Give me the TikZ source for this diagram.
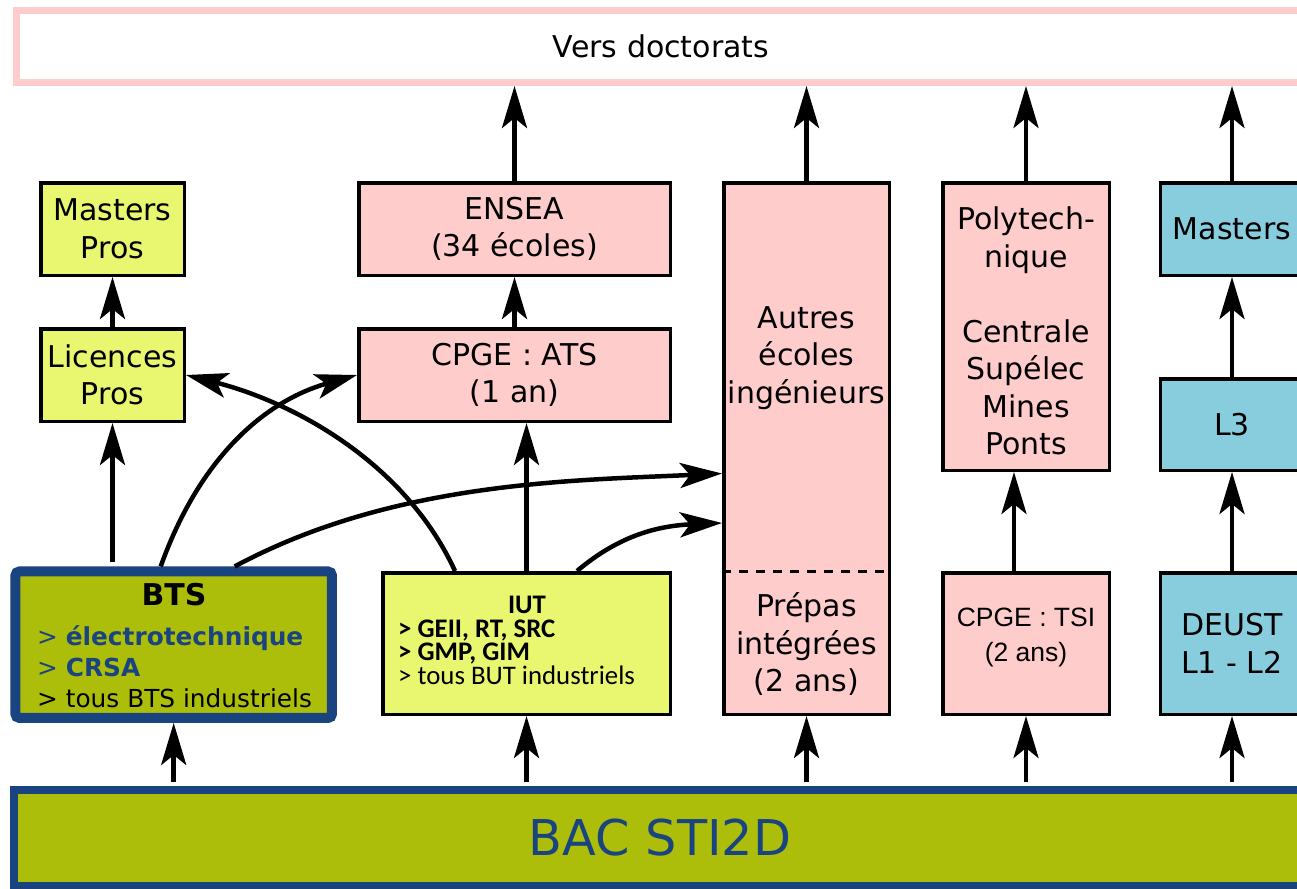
\documentclass[tikz,border=0pt]{standalone}
\usepackage{fontspec}
\setmainfont{DejaVu Sans}
\newfontfamily\carlito{Carlito}
\newfontfamily\libsans{Liberation Sans}
\usetikzlibrary{arrows.meta}
\definecolor{cyel}{RGB}{233,246,111}
\definecolor{cpink}{RGB}{255,204,204}
\definecolor{cblue}{RGB}{136,205,221}
\definecolor{colive}{RGB}{173,190,10}
\definecolor{cdblue}{RGB}{26,68,128}
\begin{document}
\begin{tikzpicture}[x=1pt,y=-1pt,
  box/.style={draw=black, line width=3.5pt, inner sep=0pt, align=center, font=\fontsize{30}{37.5}\selectfont},
  yel/.style={box, fill=cyel},
  pnk/.style={box, fill=cpink},
  blu/.style={box, fill=cblue},
  txt/.style={inner sep=0pt, align=center, font=\fontsize{30}{37.5}\selectfont},
  arr/.style={line width=4.5pt, -{Stealth[length=42pt,width=25pt,inset=10pt]}},
  arrb/.style={arr, shorten <=4pt}]
\useasboundingbox (0,0) rectangle (1297,888);

% top
\node[box, draw=cpink, line width=7pt, fill=white, minimum width=1290pt, minimum height=72pt] (doct) at (661,46.5) {Vers doctorats};

% column 1
\node[yel, minimum width=143.5pt, minimum height=92.5pt] (mpro) at (112.5,229) {Masters\\Pros};
\node[yel, minimum width=143.5pt, minimum height=92.5pt] (lpro) at (112.5,375) {Licences\\Pros};
\node[box, draw=cdblue, line width=10pt, rounded corners=4pt, fill=colive, minimum width=316.5pt, minimum height=146.5pt] (bts) at (173.7,644.7) {};
\node[txt, font=\fontsize{30}{37.5}\selectfont\bfseries] (btstitle) at (174,595) {BTS};
\node[txt, anchor=west, align=left, font=\fontsize{24.8}{31}\selectfont] (btslist) at (37,667)
  {{\color{cdblue}> \textbf{électrotechnique}}\\{\color{cdblue}> \textbf{CRSA}}\\> tous BTS industriels};

% column 2
\node[pnk, minimum width=311.5pt, minimum height=92.5pt] (ensea) at (514.5,229) {ENSEA\\(34 écoles)};
\node[pnk, minimum width=311.5pt, minimum height=92.5pt] (ats) at (514.5,375) {CPGE : ATS\\(1 an)};
\node[yel, minimum width=287.5pt, minimum height=141.5pt] (iut) at (526.5,643.5) {};
\node[txt, font=\carlito\bfseries\fontsize{26.8}{23.5}\selectfont] (iuttitle) at (527,605) {IUT};
\node[txt, anchor=west, align=left, font=\carlito\fontsize{26.8}{23.5}\selectfont] (iutlist) at (398,652)
  {\textbf{> GEII, RT, SRC}\\\textbf{> GMP, GIM}\\> tous BUT industriels};

% column 3
\node[pnk, minimum width=165.5pt, minimum height=531.5pt] (autres) at (806.5,448.5) {};
\node[txt] (autrestxt) at (806.5,358) {Autres\\écoles\\ingénieurs};
\node[txt] (prepas) at (806.5,644) {Prépas\\intégrées\\(2 ans)};
\coordinate (dl) at (722,571);
\coordinate (dr) at (891,571);
\draw[line width=3pt, dash pattern=on 9pt off 8pt] (dl) -- (dr);

% column 4
\node[pnk, minimum width=166.5pt, minimum height=287.5pt] (poly) at (1026,326.5) {};
\node[txt] (polytxt) at (1026,331) {Polytech-\\nique\\\mbox{}\\Centrale\\Supélec\\Mines\\Ponts};
\node[pnk, minimum width=166.5pt, minimum height=141.5pt] (tsi) at (1026,643.5) {};
\node[txt, font=\libsans\fontsize{26.5}{35}\selectfont] (tsitxt) at (1026,637.5) {CPGE : TSI\\(2 ans)};

% column 5
\node[blu, minimum width=143.5pt, minimum height=92.5pt] (masters) at (1232,229) {Masters};
\node[blu, minimum width=143.5pt, minimum height=91.5pt] (l3) at (1232,424.5) {L3};
\node[blu, minimum width=143.5pt, minimum height=141.5pt] (deust) at (1232,643.5) {DEUST\\L1 - L2};

% bottom
\node[box, draw=cdblue, line width=8.5pt, fill=colive, minimum width=1292pt, minimum height=96pt,
  text=cdblue, font=\fontsize{49.3}{55}\selectfont] (bac) at (660,838) {BAC STI2D};

% straight arrows
\draw[arrb] (bac.north -| bts.south) -- (bts.south);
\draw[arrb] (bac.north -| iut.south) -- (iut.south);
\draw[arrb] (bac.north -| autres.south) -- (autres.south);
\draw[arrb] (bac.north -| tsi.south) -- (tsi.south);
\draw[arrb] (bac.north -| deust.south) -- (deust.south);
\draw[arrb] (bts.north -| lpro.south) -- (lpro.south);
\draw[arr] (lpro.north) -- (mpro.south);
\draw[arr] (iut.north) -- (iut.north |- ats.south);
\draw[arr] (ats.north) -- (ensea.south);
\draw[arr] (ensea.north) -- (ensea.north |- doct.south);
\draw[arr] (autres.north) -- (autres.north |- doct.south);
\draw[arr] (poly.north) -- (poly.north |- doct.south);
\draw[arr] (masters.north) -- (masters.north |- doct.south);
\draw[arr] ([xshift=-12pt]tsi.north) -- ([xshift=-12pt]poly.south);
\draw[arr] (deust.north) -- (l3.south);
\draw[arr] (l3.north) -- (masters.south);

% curved arrows
\draw[arr] ([xshift=-13pt]bts.north) .. controls +(37,-104) and +(-96,27) .. (ats.west);
\draw[arr] ([xshift=-71.5pt]iut.north) .. controls +(-50,-109) and +(107,27) .. (lpro.east);
\draw[arr] ([xshift=61pt]bts.north) .. controls +(158,-85) and +(-150,7) .. ([yshift=-25pt]autres.west);
\draw[arr] ([xshift=50.5pt]iut.north) .. controls +(38,-32) and +(-70,3) .. ([yshift=-74.5pt]autres.west);
\end{tikzpicture}
\end{document}
